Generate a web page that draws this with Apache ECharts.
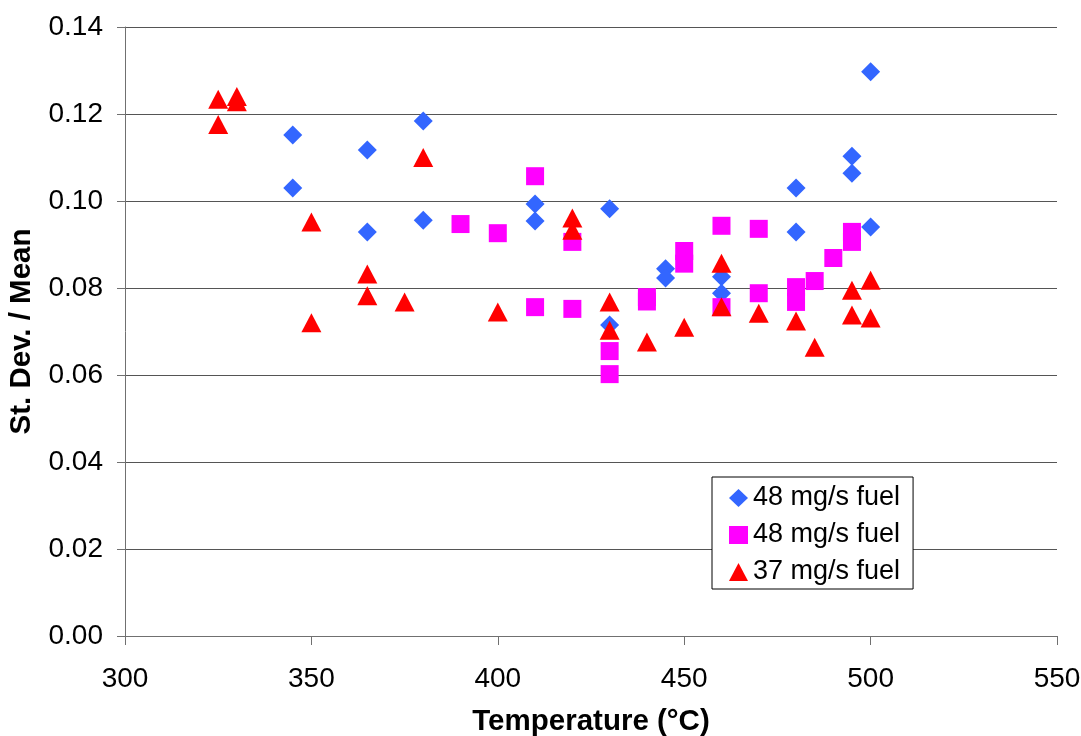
<!DOCTYPE html>
<html>
<head>
<meta charset="utf-8">
<script src="https://cdn.jsdelivr.net/npm/echarts@6/dist/echarts.min.js"></script>
<style>
  html, body { margin: 0; padding: 0; background: #fff; }
  #chart { width: 1081px; height: 736px; }
</style>
</head>
<body>
<div id="chart"></div>
<script>
// Coefficient of variation vs. temperature for three fuel-flow runs.
const seriesNames = ['48 mg/s fuel', '48 mg/s fuel', '37 mg/s fuel'];

// [temperature °C, st.dev./mean]
const fuel48A = [
  [345, 0.1152], [345, 0.1030],
  [365, 0.1117], [365, 0.0929],
  [380, 0.1184], [380, 0.0956],
  [410, 0.0993], [410, 0.0954],
  [430, 0.0982], [430, 0.0715],
  [445, 0.0844], [445, 0.0823],
  [460, 0.0826], [460, 0.0788],
  [480, 0.1030], [480, 0.0929],
  [495, 0.1103], [495, 0.1064],
  [500, 0.1297], [500, 0.0940]
];

const fuel48B = [
  [390, 0.0947],
  [400, 0.0926],
  [410, 0.1057], [410, 0.0756],
  [420, 0.0906], [420, 0.0752],
  [430, 0.0655], [430, 0.0602],
  [440, 0.0779], [440, 0.0769],
  [450, 0.0885], [450, 0.0856],
  [460, 0.0943], [460, 0.0756],
  [470, 0.0936], [470, 0.0788],
  [480, 0.0802], [480, 0.0768],
  [485, 0.0816],
  [490, 0.0869],
  [495, 0.0929], [495, 0.0906]
];

const fuel37 = [
  [325, 0.1234], [325, 0.1176],
  [330, 0.1240], [330, 0.1228],
  [350, 0.0952], [350, 0.0720],
  [365, 0.0832], [365, 0.0782],
  [375, 0.0768],
  [380, 0.1100],
  [400, 0.0745],
  [420, 0.0961], [420, 0.0933],
  [430, 0.0768], [430, 0.0703],
  [440, 0.0676],
  [450, 0.0710],
  [460, 0.0857], [460, 0.0757],
  [470, 0.0742],
  [480, 0.0724],
  [485, 0.0664],
  [495, 0.0795], [495, 0.0738],
  [500, 0.0818], [500, 0.0731]
];

const xTitle = 'Temperature (°C)';
const yTitle = 'St. Dev. / Mean';

const FONT = '"Liberation Sans", Arial, Helvetica, sans-serif';
const chart = echarts.init(document.getElementById('chart'), null, { renderer: 'canvas' });

chart.setOption({
  animation: false,
  backgroundColor: '#ffffff',
  grid: {
    left: 125, right: 24, top: 27, bottom: 100,
    containLabel: false,
    outerBoundsMode: 'none'
  },
  xAxis: {
    type: 'value',
    min: 300, max: 550, interval: 50,
    name: xTitle,
    nameLocation: 'middle',
    nameGap: 71,
    nameTextStyle: { fontFamily: FONT, fontSize: 29.5, fontWeight: 'bold', color: '#000' },
    axisLine: { show: true, onZero: false, lineStyle: { color: '#707070', width: 1 } },
    axisTick: { show: true, inside: false, length: 9, lineStyle: { color: '#707070' } },
    axisLabel: { fontFamily: FONT, fontSize: 28, color: '#000', margin: 29 },
    splitLine: { show: false }
  },
  yAxis: {
    type: 'value',
    min: 0, max: 0.14, interval: 0.02,
    name: yTitle,
    nameLocation: 'middle',
    nameGap: 88,
    nameRotate: 90,
    nameTextStyle: { fontFamily: FONT, fontSize: 29.5, fontWeight: 'bold', color: '#000' },
    axisLine: { show: true, lineStyle: { color: '#707070', width: 1 } },
    axisTick: { show: true, inside: false, length: 8, lineStyle: { color: '#707070' } },
    axisLabel: {
      fontFamily: FONT, fontSize: 28, color: '#000', margin: 22,
      formatter: v => v.toFixed(2)
    },
    splitLine: { show: true, lineStyle: { color: '#555555', width: 1 } }
  },
  legend: {
    orient: 'vertical',
    left: 712, top: 477,
    backgroundColor: '#ffffff',
    borderColor: '#000000', borderWidth: 1,
    padding: [6, 13, 2, 17],
    itemGap: 7,
    itemWidth: 19, itemHeight: 18,
    textStyle: { fontFamily: FONT, fontSize: 27, color: '#000', lineHeight: 30 },
    data: [
      { name: 'A', icon: 'diamond' },
      { name: 'B', icon: 'rect' },
      { name: 'C', icon: 'triangle' }
    ],
    formatter: n => ({ A: seriesNames[0], B: seriesNames[1], C: seriesNames[2] })[n]
  },
  series: [
    {
      name: 'A', type: 'scatter', data: fuel48A,
      symbol: 'diamond', symbolSize: 19,
      itemStyle: { color: '#3366FF', opacity: 1 }
    },
    {
      name: 'B', type: 'scatter', data: fuel48B,
      symbol: 'rect', symbolSize: 18,
      itemStyle: { color: '#FF00FF', opacity: 1 }
    },
    {
      name: 'C', type: 'scatter', data: fuel37,
      symbol: 'triangle', symbolSize: [20, 19],
      itemStyle: { color: '#FF0000', opacity: 1 }
    }
  ]
});
</script>
</body>
</html>
